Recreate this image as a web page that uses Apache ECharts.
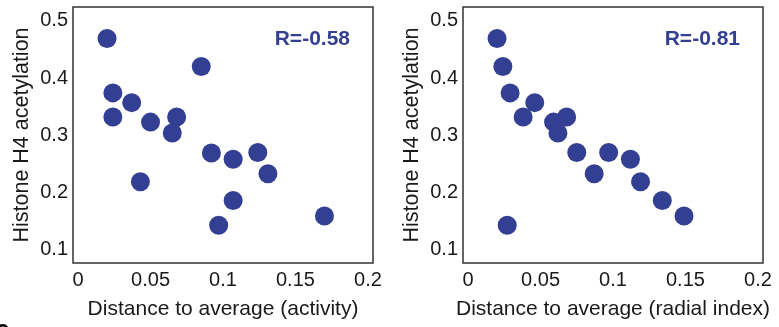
<!DOCTYPE html>
<html>
<head>
<meta charset="utf-8">
<script src="https://cdn.jsdelivr.net/npm/echarts@6/dist/echarts.min.js"></script>
<style>
  html, body { margin: 0; padding: 0; background: #fff; }
  #main { width: 779px; height: 327px; }
</style>
</head>
<body>
<div id="main"></div>
<script>
// values
var acetylation = [0.469, 0.420, 0.374, 0.357, 0.332, 0.323, 0.332, 0.304, 0.219, 0.269, 0.258, 0.270, 0.233, 0.186, 0.143, 0.159];
var activityDist = [0.020, 0.085, 0.024, 0.037, 0.024, 0.050, 0.068, 0.065, 0.043, 0.092, 0.107, 0.124, 0.131, 0.107, 0.097, 0.170];

var radialY = [0.469, 0.420, 0.374, 0.357, 0.332, 0.323, 0.332, 0.304, 0.270, 0.270, 0.233, 0.258, 0.219, 0.186, 0.159, 0.143];
var radialDist = [0.020, 0.024, 0.029, 0.046, 0.038, 0.059, 0.068, 0.062, 0.075, 0.097, 0.087, 0.112, 0.119, 0.134, 0.149, 0.027];

var xTicks = [0, 0.05, 0.1, 0.15, 0.2];
var yTicks = [0.1, 0.2, 0.3, 0.4, 0.5];
var rLabels = ['R=-0.58', 'R=-0.81'];
var xNames = ['Distance to average (activity)', 'Distance to average (radial index)'];

var blue = '#333f92';
var font = "'Liberation Sans', Arial, sans-serif";

function pairs(xs, ys) {
    return xs.map(function (x, i) { return [x, ys[i]]; });
}

function xAxis(idx) {
    return {
        type: 'value', gridIndex: idx,
        min: -0.0035, max: 0.2035,
        name: xNames[idx], nameLocation: 'middle', nameGap: 36,
        nameTextStyle: { fontSize: 21, color: '#1a1a1a', fontFamily: font },
        axisLine: { show: false },
        axisTick: { show: false },
        splitLine: { show: false },
        axisLabel: {
            customValues: xTicks, margin: 7,
            fontSize: 20, color: '#1a1a1a', fontFamily: font,
            formatter: function (v) { return String(v); }
        }
    };
}

function yAxis(idx) {
    return {
        type: 'value', gridIndex: idx,
        min: 0.077, max: 0.524,
        name: 'Histone H4 acetylation', nameLocation: 'middle', nameGap: 40,
        nameTextStyle: { fontSize: 21.5, color: '#1a1a1a', fontFamily: font },
        axisLine: { show: false },
        axisTick: { show: false },
        splitLine: { show: false },
        axisLabel: {
            customValues: yTicks, margin: 5,
            fontSize: 20, color: '#1a1a1a', fontFamily: font,
            formatter: function (v) { return String(v); }
        }
    };
}

var chart = echarts.init(document.getElementById('main'));

chart.setOption({
    animation: false,
    backgroundColor: '#fff',
    grid: [
        { left: 73, top: 7, width: 300, height: 256, show: true, borderColor: '#333', borderWidth: 1.5, backgroundColor: '#fff' },
        { left: 463, top: 7, width: 300, height: 256, show: true, borderColor: '#333', borderWidth: 1.5, backgroundColor: '#fff' }
    ],
    xAxis: [xAxis(0), xAxis(1)],
    yAxis: [yAxis(0), yAxis(1)],
    series: [
        {
            type: 'scatter', xAxisIndex: 0, yAxisIndex: 0,
            symbolSize: 19, itemStyle: { color: blue, opacity: 1 },
            data: pairs(activityDist, acetylation)
        },
        {
            type: 'scatter', xAxisIndex: 1, yAxisIndex: 1,
            symbolSize: 19, itemStyle: { color: blue, opacity: 1 },
            data: pairs(radialDist, radialY)
        }
    ],
    graphic: [
        {
            type: 'text', x: 350, y: 39,
            style: { text: rLabels[0], fill: blue, font: 'bold 21px ' + font, textAlign: 'right', textVerticalAlign: 'middle' }
        },
        {
            type: 'text', x: 740, y: 39,
            style: { text: rLabels[1], fill: blue, font: 'bold 21px ' + font, textAlign: 'right', textVerticalAlign: 'middle' }
        },
        {
            type: 'text', x: -5, y: 318,
            style: { text: 'c', fill: '#000', font: 'bold 26px ' + font }
        }
    ]
});
</script>
</body>
</html>
